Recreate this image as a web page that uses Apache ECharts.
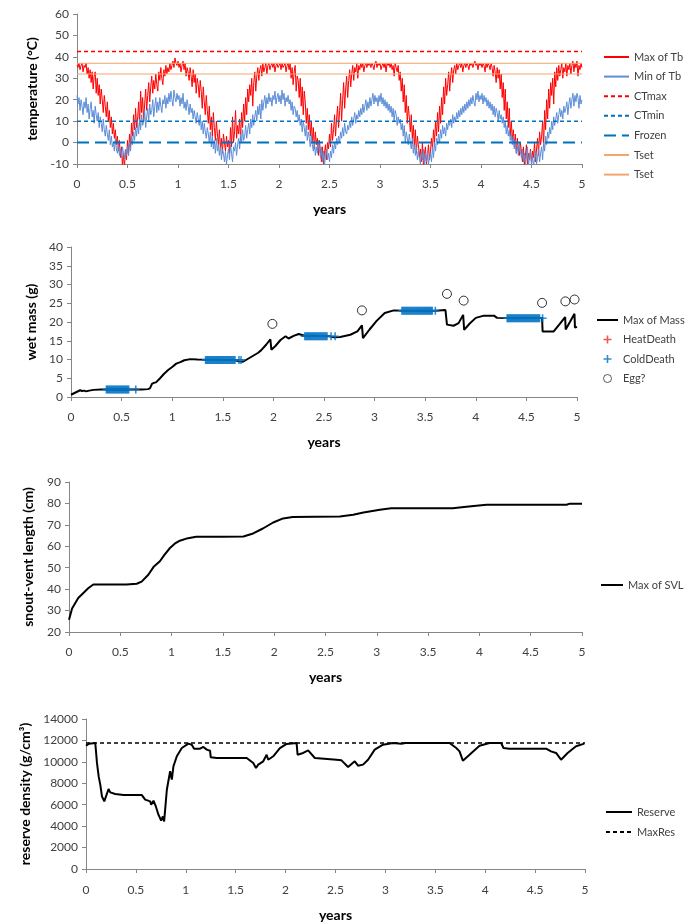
<!DOCTYPE html>
<html><head><meta charset="utf-8">
<script src="https://cdn.jsdelivr.net/npm/echarts@6/dist/echarts.min.js"></script>
<style>html,body{margin:0;padding:0;background:#fff}#c{width:688px;height:924px}</style>
</head><body><div id="c"></div>
<script>
const FONT = "Lato, 'Open Sans', sans-serif";

// ---------- Panel 1: body temperature ----------
const tbStep = 0.01; // years between samples
const maxTb = [
 36,35,37,34,36,37,33,36,35,37, 32,35,30,34,28,33,25,31,33,23, 30,22,27,18,25,20,14,22,17,12,
 19,10,15,7,12,4,9,2,6,-1, 3,-4,1,-7,-2,-11,-5,-12,-3,-8, 1,-6,4,-2,9,3,13,6,16,7,
 11,19,8,24,14,21,10,18,25,15, 22,28,19,26,31,23,29,25,32,27, 24,33,29,35,30,27,34,31,36,32,
 35,33,37,34,36,38,35,39.5,37,36, 38,35,37,33,36,38,34,37,31,35, 33,29,35,31,26,34,28,32,23,30,
 27,21,29,24,16,26,19,13,22,15, 9,17,6,12,3,14,7,1,10,4, -1,6,-3,2,-5,4,0,-4,3,-2,
 1,-5,7,-2,12,0,5,15,2,8, 4,11,1,14,7,18,10,21,13,25, 19,27,22,30,17,28,33,24,31,35,
 29,34,36,31,37,33,35,37,32,36, 37,34,36,37,35,37,33,36,37,35, 36,37,34,37,35,36,37,33,36,37,
 34,37,30,35,27,33,36,24,31,29, 21,30,17,26,13,24,19,9,16,6, 13,3,10,0,7,-3,5,-1,2,-6,
 1,-4,-9,-2,-10,-5,-1,-8,0,-3, 4,-2,9,1,6,13,3,11,17,7, 15,23,10,20,28,16,25,31,21,29,
 34,26,32,36,29,35,33,37,30,36, 34,37,35,37,33,36,37,35,37,36, 37,35,37,36,34,37,38,35,37,36,
 37,34,36,37,35,37,33,37,36,37, 35,37,34,36,31,37,35,33,36,29, 33,24,30,19,27,14,22,9,17,12,
 5,13,2,8,-2,6,-5,3,-1,-7, -3,-9,0,-11,-5,-2,-10,-6,-1,-8, -4,2,-3,6,0,10,3,14,5,17,
 9,21,13,26,18,30,22,27,33,24, 31,35,28,34,36,32,37,34,36,37, 35,37,33,36,37,35,37,36,34,37,
 36,37,35,37,38,36,37,34,37,36, 37,35,37,36,33,37,35,37,36,34, 37,35,31,36,33,28,35,30,34,25,
 32,21,28,15,25,11,19,7,16,3, 10,1,6,-2,4,-5,2,-3,-6,0, -4,-9,-2,-11,-6,-1,-10,-5,-8,-3,
 -10,-4,-7,0,-9,-3,2,-6,5,-1, 3,10,-2,15,6,20,11,25,16,28, 22,30,18,33,26,35,29,36,31,34,
 37,30,35,33,37,31,36,34,37,32, 36,38,33,37,35,38,31,36,34,37, 35];
const minTb = [
 22,18,21,15,20,17,13,19,16,21, 14,18,11,16,19,12,15,9,17,13, 10,14,7,12,9,5,11,6,3,8,
 4,1,6,-1,3,-2,0,-4,2,-3, -5,-1,-6,-3,-7,-2,-5,-8,-3,-6, -2,-6,0,-4,3,-1,5,1,7,3,
 9,4,11,6,13,8,10,15,7,12, 16,10,18,13,15,20,12,17,21,14, 19,15,21,17,14,20,18,22,16,21,
 18,23,19,24,20,17,24.5,21,19,23, 20,22,17,21,18,23,16,19,15,20, 17,13,18,14,16,11,15,12,9,14,
 11,8,13,6,10,4,9,5,2,7, 4,0,5,-2,3,-3,1,-5,2,-4, -1,-6,-2,-8,-3,-5,-9,-4,-10,-6,
 -3,-8,-1,-5,-9,-2,-4,0,-6,-1, 2,-3,4,0,6,1,3,8,2,6, 9,4,11,7,13,8,12,15,10,17,
 13,18,11,20,15,19,22,16,21,18, 23,19,21,17,22,20,24,18,21,23, 19,22,18,24.5,20,23,17,21,19,22,
 18,20,15,19,13,17,16,12,15,10, 13,8,11,5,10,7,3,8,1,5, 2,-2,4,-1,-4,0,-6,-2,-5,1,
 -3,-7,-2,-9,-4,-11,-6,-3,-8,-5, -9,-4,-7,-1,-5,0,-3,2,-1,3, 0,5,2,7,3,9,5,4,8,6,
 10,7,12,8,11,14,9,13,11,15, 12,16,13,18,14,17,20,15,19,16, 21,17,20,23,18,22,19,21,17,22,
 19,23,18,21,17,20,16,19,15,18, 14,17,12,16,10,15,13,8,12,9, 11,6,9,3,8,0,5,2,-1,4,
 0,-3,2,-5,-1,-6,-2,-8,-4,-7, -10,-5,-8,-3,-11,-6,-9,-4,-10,-7, -5,-9,-2,-7,0,-4,2,-1,4,0,
 6,2,8,4,7,3,9,6,10,8, 11,7,13,9,12,10,14,11,15,12, 16,13,17,14,18,15,19,16,20,17,
 21,18,22,19,17,23,20,24,19,22, 20,23,18,22,19,21,17,20,16,19, 15,18,13,17,12,16,14,10,15,11,
 13,9,12,7,10,4,8,3,6,1, 4,-1,3,-3,1,-5,-2,-6,0,-4, -7,-3,-9,-5,-10,-6,-2,-11,-7,-4,
 -10,-6,-11,-8,-4,-10,-7,-3,-9,-5, -2,-8,0,-4,3,-1,5,2,7,4, 10,6,12,8,11,14,9,13,16,12,
 15,11,17,14,16,19,13,18,21,16, 20,23,17,22,19,23,21,16,22,18, 20];
const ctMax = 42.5, ctMin = 10, frozen = 0, tsetHigh = 37, tsetLow = 32;

// ---------- Panel 2: wet mass ----------
const massT = [0,0.03,0.06,0.09,0.11,0.13,0.15,0.18,0.22,0.3,0.5,0.7,0.76,0.78,0.8,0.82,0.84,0.88,0.92,0.96,1.0,1.04,1.08,1.12,1.18,1.25,1.5,1.62,1.66,1.7,1.75,1.8,1.85,1.88,1.93,1.97,1.98,2.02,2.07,2.12,2.15,2.2,2.25,2.3,2.55,2.6,2.66,2.76,2.83,2.875,2.885,2.95,3.02,3.1,3.19,3.3,3.6,3.70,3.715,3.78,3.83,3.875,3.885,3.94,4.0,4.08,4.18,4.21,4.4,4.655,4.66,4.77,4.83,4.883,4.888,4.93,4.975,4.98,5.0];
const massV = [0.6,1.0,1.4,1.8,1.6,1.7,1.5,1.7,1.9,2.0,2.0,2.0,2.1,2.3,3.5,3.8,3.9,5.0,6.2,7.2,8.0,8.9,9.3,9.8,10.1,10.0,9.9,9.8,9.5,9.4,10.2,11.0,11.8,12.5,14.0,15.4,12.6,13.6,15.2,16.2,15.6,16.3,16.8,16.4,16.2,15.9,16.0,16.6,17.5,19.1,15.7,18.0,20.3,22.4,23.1,23.0,23.0,23.2,19.3,19.0,19.7,21.9,17.9,19.6,21.1,21.7,21.7,21.1,21.0,21.1,17.5,17.5,19.5,21.3,18.0,20.0,22.2,18.5,18.7];
const coldDeathTimes = [
 [0.35,0.36,0.37,0.38,0.39,0.40,0.41,0.42,0.43,0.44,0.45,0.46,0.47,0.48,0.49,0.50,0.51,0.52,0.53,0.54,0.55,0.56,0.57,0.64],
 [1.33,1.34,1.35,1.36,1.37,1.38,1.39,1.40,1.41,1.42,1.43,1.44,1.45,1.46,1.47,1.48,1.49,1.50,1.51,1.52,1.53,1.54,1.55,1.56,1.57,1.58,1.59,1.60,1.61,1.62,1.66,1.68],
 [2.31,2.32,2.33,2.34,2.35,2.36,2.37,2.38,2.39,2.40,2.41,2.42,2.43,2.44,2.45,2.46,2.47,2.48,2.49,2.50,2.51,2.52,2.53,2.57,2.61],
 [3.27,3.28,3.29,3.30,3.31,3.32,3.33,3.34,3.35,3.36,3.37,3.38,3.39,3.40,3.41,3.42,3.43,3.44,3.45,3.46,3.47,3.48,3.49,3.50,3.51,3.52,3.53,3.54,3.55,3.56,3.57,3.60],
 [4.31,4.32,4.33,4.34,4.35,4.36,4.37,4.38,4.39,4.40,4.41,4.42,4.43,4.44,4.45,4.46,4.47,4.48,4.49,4.50,4.51,4.52,4.53,4.54,4.55,4.56,4.57,4.58,4.59,4.60,4.61,4.62,4.63,4.66]
];
const coldDeathMass = [2.0, 9.9, 16.2, 23.0, 21.0];
const heatDeath = [];
const eggT = [1.99,2.875,3.715,3.88,4.655,4.885,4.976];
const eggV = [19.5,23.1,27.5,25.7,25.1,25.5,26.0];

// ---------- Panel 3: snout-vent length ----------
const svlT = [0,0.03,0.09,0.14,0.19,0.237,0.4,0.56,0.66,0.708,0.773,0.828,0.886,0.93,0.984,1.03,1.08,1.16,1.24,1.5,1.70,1.795,1.89,1.99,2.087,2.18,2.4,2.64,2.77,2.87,3.03,3.14,3.5,3.74,3.85,3.97,4.07,4.5,4.85,4.88,5.0];
const svlV = [25.7,31,35.9,38.2,40.5,42.2,42.2,42.2,42.5,43.5,46.7,50.6,53,56,59.2,61.2,62.6,63.8,64.5,64.5,64.6,66.0,68.3,71.1,73.0,73.7,73.8,73.9,74.7,75.8,77.0,77.7,77.7,77.7,78.3,78.9,79.4,79.4,79.4,79.9,79.9];

// ---------- Panel 4: reserve density ----------
const resT = [0,0.02,0.03,0.093,0.11,0.127,0.143,0.16,0.183,0.195,0.203,0.226,0.243,0.293,0.376,0.56,0.593,0.643,0.653,0.676,0.70,0.726,0.753,0.77,0.783,0.81,0.843,0.86,0.876,0.91,0.96,1.026,1.06,1.083,1.143,1.176,1.21,1.243,1.25,1.31,1.61,1.676,1.703,1.726,1.743,1.776,1.81,1.826,1.876,1.943,2.01,2.11,2.12,2.176,2.226,2.243,2.293,2.31,2.51,2.56,2.626,2.693,2.726,2.776,2.826,2.893,2.976,3.076,3.16,3.2,3.643,3.71,3.743,3.776,3.843,3.943,4.043,4.16,4.183,4.243,4.61,4.66,4.71,4.76,4.826,4.91,4.993];
const resV = [11500,11550,11700,11760,9900,8640,7870,6780,6310,6350,6470,7470,7150,7000,6900,6900,6470,6310,6000,6370,5840,5070,4510,4910,4440,7400,9120,8340,9580,10520,11290,11700,11600,11230,11230,11390,11140,11040,10420,10360,10360,9890,9430,9740,9580,10050,10670,10200,10520,11290,11670,11760,10670,10830,11080,10980,10360,10200,10200,10140,9520,10050,9640,9740,10200,11140,11600,11760,11700,11760,11760,11290,10980,10110,10670,11510,11760,11760,11290,11230,11230,10980,10830,10200,10830,11450,11700];
const maxRes = 11760;

// ---------- build ----------
const zip = (a, b) => a.map((v, i) => [v, b[i]]);
const tbSeries = arr => arr.map((v, i) => [+(i * tbStep).toFixed(2), v]);
const hline = v => [[0, v], [5, v]];
const PLUS = 'path://M4,0H6V4H10V6H6V10H4V6H0V4H4Z';
const AX = '#868686';
const plain = v => String(v);

function xAx(g, margin, gap) {
  return { type: 'value', gridIndex: g, min: 0, max: 5, interval: 0.5,
    name: 'years', nameLocation: 'middle', nameGap: gap,
    nameTextStyle: { fontWeight: 'bold', fontSize: 14, color: '#000', fontFamily: FONT },
    axisLine: { show: true, onZero: false, lineStyle: { color: AX, width: 1 } },
    axisTick: { show: true, length: 4, lineStyle: { color: AX } },
    axisLabel: { margin, fontSize: 12, color: '#404040', fontFamily: FONT, formatter: plain },
    splitLine: { show: false } };
}
function yAx(g, min, max, interval, name, gap) {
  return { type: 'value', gridIndex: g, min, max, interval,
    name, nameLocation: 'middle', nameGap: gap,
    nameTextStyle: { fontWeight: 'bold', fontSize: 14, color: '#000', fontFamily: FONT },
    axisLine: { show: true, lineStyle: { color: AX, width: 1 } },
    axisTick: { show: true, length: 4, lineStyle: { color: AX } },
    axisLabel: { margin: 8, fontSize: 12, color: '#404040', fontFamily: FONT, formatter: plain },
    splitLine: { show: false } };
}
function line(name, g, data, color, width, type, z) {
  return { name, type: 'line', xAxisIndex: g, yAxisIndex: g, data, symbol: 'none',
    lineStyle: { color, width, type: type || 'solid' }, itemStyle: { color },
    animation: false, z: z || 2 };
}
const legTxt = { fontSize: 11, color: '#404040', fontFamily: FONT, lineHeight: 12 };
const noSym = { color: 'rgba(0,0,0,0)', borderWidth: 0, opacity: 0 };
const lineItem = name => ({ name, itemStyle: noSym });

const coldPts = [];
coldDeathTimes.forEach((ts, k) => ts.forEach(t => coldPts.push([t, coldDeathMass[k]])));

const option = {
  backgroundColor: '#fff',
  animation: false,
  grid: [
    { left: 77, top: 14, width: 505, height: 150, outerBoundsMode: 'none' },
    { left: 71, top: 247, width: 506, height: 150, outerBoundsMode: 'none' },
    { left: 69, top: 482, width: 513, height: 150, outerBoundsMode: 'none' },
    { left: 86, top: 719, width: 499, height: 150, outerBoundsMode: 'none' }
  ],
  xAxis: [xAx(0, 14, 38), xAx(1, 14, 38), xAx(2, 14, 38), xAx(3, 15, 39)],
  yAxis: [
    yAx(0, -10, 60, 10, 'temperature (°C)', 38),
    yAx(1, 0, 40, 5, 'wet mass (g)', 33),
    yAx(2, 20, 90, 10, 'snout-vent length (cm)', 34),
    yAx(3, 0, 14000, 2000, 'reserve density (g/cm³)', 53)
  ],
  legend: [
    { left: 603, top: 51, orient: 'vertical', itemWidth: 25, itemHeight: 12, itemGap: 7.6, padding: 0,
      selectedMode: false, textStyle: legTxt,
      data: ['Max of Tb', 'Min of Tb', 'CTmax', 'CTmin', 'Frozen', 'Tset', 'Tset '].map(lineItem) },
    { left: 596, top: 314, orient: 'vertical', itemWidth: 21, itemHeight: 8, itemGap: 7.5, padding: 0,
      selectedMode: false, textStyle: legTxt,
      data: [lineItem('Max of Mass'), 'HeatDeath', 'ColdDeath',
             { name: 'Egg?', itemStyle: { color: '#ffffff', borderColor: '#000', borderWidth: 0.8 } }] },
    { left: 600, top: 579, orient: 'vertical', itemWidth: 22, itemHeight: 12, padding: 0,
      selectedMode: false, textStyle: legTxt, data: [lineItem('Max of SVL')] },
    { left: 605, top: 806, orient: 'vertical', itemWidth: 26, itemHeight: 12, itemGap: 8, padding: 0,
      selectedMode: false, textStyle: legTxt, data: [lineItem('Reserve'), lineItem('MaxRes')] }
  ],
  series: [
    line('Max of Tb', 0, tbSeries(maxTb), '#FF0000', 1),
    line('Min of Tb', 0, tbSeries(minTb), '#5B8DD8', 1),
    line('CTmax', 0, hline(ctMax), '#FF0000', 1.5, [4, 3], 3),
    line('CTmin', 0, hline(ctMin), '#0070C0', 1.5, [4, 3], 3),
    line('Frozen', 0, hline(frozen), '#0070C0', 2, [12, 6], 3),
    line('Tset', 0, hline(tsetHigh), '#F4A46E', 1, 'solid', 3),
    line('Tset ', 0, hline(tsetLow), '#F4A46E', 1, 'solid', 3),

    line('Max of Mass', 1, zip(massT, massV), '#000000', 2),
    { name: 'HeatDeath', type: 'scatter', xAxisIndex: 1, yAxisIndex: 1, data: heatDeath,
      symbol: PLUS, symbolSize: 8, itemStyle: { color: '#E8302A' } },
    { name: 'ColdDeath', type: 'scatter', xAxisIndex: 1, yAxisIndex: 1, data: coldPts,
      symbol: PLUS, symbolSize: 8, itemStyle: { color: '#0070C0' }, z: 3 },
    { name: 'Egg?', type: 'scatter', xAxisIndex: 1, yAxisIndex: 1, data: zip(eggT, eggV),
      symbol: 'circle', symbolSize: 9, itemStyle: { color: '#ffffff', borderColor: '#000', borderWidth: 1 }, z: 4 },

    line('Max of SVL', 2, zip(svlT, svlV), '#000000', 2),

    line('Reserve', 3, zip(resT, resV), '#000000', 2),
    line('MaxRes', 3, hline(maxRes), '#000000', 1.5, [4, 3], 3)
  ]
};
const chart = echarts.init(document.getElementById('c'), null, { renderer: 'canvas' });
chart.setOption(option);
</script></body></html>
